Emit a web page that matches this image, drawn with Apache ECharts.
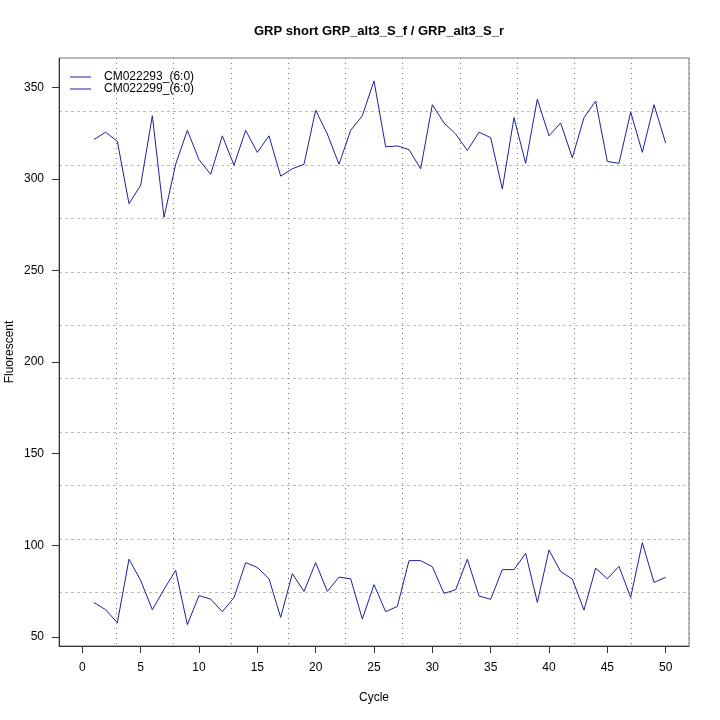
<!DOCTYPE html>
<html>
<head>
<meta charset="utf-8">
<script src="https://cdn.jsdelivr.net/npm/echarts@6/dist/echarts.min.js"></script>
<style>html,body{margin:0;padding:0;background:#fff}#c{width:720px;height:720px}</style>
</head>
<body>
<div id="c"></div>
<script>
var cycles = [];
for (var i = 1; i <= 50; i++) cycles.push(i);
var seriesA = [321.5,325.5,320.5,286.5,296.5,334.5,279,308,326.5,310.5,302.5,323.5,307.5,326.5,314.5,323.5,301.5,305.5,308,337.5,324.5,308,326.5,334.5,353.5,317.5,318,316,305.5,340.5,330.5,324.5,315.5,325.5,322.5,294.5,333.5,308.5,343.5,323.5,330.5,311.5,333.5,342.5,309.5,308.5,336.5,314.5,340.5,319.5];
var seriesB = [68.7,64.8,57.7,92.4,80.8,64.8,75.9,86.3,56.7,72.5,70.6,63.7,71.4,90.5,87.9,81.7,60.6,84.5,74.8,90.5,74.8,82.6,81.7,59.7,78.5,63.7,66.6,91.6,91.6,88.3,73.7,75.7,92.4,72.3,70.5,86.7,86.7,95.6,68.8,97.4,85.6,81.5,64.6,87.5,81.7,88.5,71.5,101.4,79.7,82.5];
var seriesNames = ['CM022293_(6:0)', 'CM022299_(6:0)'];
var xTicks = [0,5,10,15,20,25,30,35,40,45,50];
var yTicks = [50,100,150,200,250,300,350];
var titleText = 'GRP short GRP_alt3_S_f / GRP_alt3_S_r';

var font = 'Liberation Sans, Arial, Helvetica, sans-serif';
var lineColor = '#1f1f9e';
var chart = echarts.init(document.getElementById('c'));
chart.setOption({
  animation: false,
  backgroundColor: '#fff',
  title: {
    text: titleText, left: 374, top: 20, textAlign: 'center',
    textStyle: {fontFamily: font, fontSize: 13, fontWeight: 'bold', color: '#000'}
  },
  legend: {
    orient: 'vertical', left: 65, top: 66, itemWidth: 21, itemHeight: 1, itemGap: 0,
    icon: 'rect',
    data: seriesNames.map(function (n) { return {name: n, icon: 'rect', itemStyle: {color: lineColor}}; }),
    textStyle: {fontFamily: font, fontSize: 12, color: '#000', padding: [0,0,0,8]}
  },
  grid: {left: 59, right: 31, top: 58, bottom: 74, show: true, borderColor: '#777', borderWidth: 1, containLabel: false, outerBoundsMode: 'none'},
  xAxis: [{
    type: 'value', min: -2, max: 52,
    name: 'Cycle', nameLocation: 'middle', nameGap: 46, nameMoveOverlap: false,
    nameTextStyle: {fontFamily: font, fontSize: 12, color: '#000'},
    axisLine: {show: true, onZero: false, lineStyle: {color: '#333'}},
    axisTick: {show: true, length: 7, customValues: xTicks, lineStyle: {color: '#333'}},
    axisLabel: {customValues: xTicks, margin: 16, fontFamily: font, fontSize: 12, color: '#000'},
    splitLine: {show: false}
  }, {
    type: 'value', min: 0, max: 11, interval: 1, position: 'top',
    axisLine: {show: false}, axisTick: {show: false}, axisLabel: {show: false},
    splitLine: {show: true, lineStyle: {color: '#777', type: [1, 4], width: 1}}
  }],
  yAxis: [{
    type: 'value', min: 45, max: 366,
    name: 'Fluorescent', nameLocation: 'middle', nameGap: 43, nameRotate: 90, nameMoveOverlap: false,
    nameTextStyle: {fontFamily: font, fontSize: 12, color: '#000'},
    axisLine: {show: true, onZero: false, lineStyle: {color: '#333'}},
    axisTick: {show: true, length: 7, customValues: yTicks, lineStyle: {color: '#333'}},
    axisLabel: {customValues: yTicks, margin: 15, fontFamily: font, fontSize: 12, color: '#000'},
    splitLine: {show: false}
  }, {
    type: 'value', min: 0, max: 11, interval: 1, position: 'right',
    axisLine: {show: false}, axisTick: {show: false}, axisLabel: {show: false},
    splitLine: {show: true, lineStyle: {color: '#bbb', type: [3, 3], width: 1}}
  }],
  series: [{
    name: seriesNames[0], type: 'line', xAxisIndex: 0, yAxisIndex: 0,
    data: cycles.map(function (c, i) { return [c, seriesA[i]]; }),
    symbol: 'none', showSymbol: false, lineStyle: {color: lineColor, width: 1}, itemStyle: {color: lineColor}
  }, {
    name: seriesNames[1], type: 'line', xAxisIndex: 0, yAxisIndex: 0,
    data: cycles.map(function (c, i) { return [c, seriesB[i]]; }),
    symbol: 'none', showSymbol: false, lineStyle: {color: lineColor, width: 1}, itemStyle: {color: lineColor}
  }]
});
</script>
</body>
</html>
